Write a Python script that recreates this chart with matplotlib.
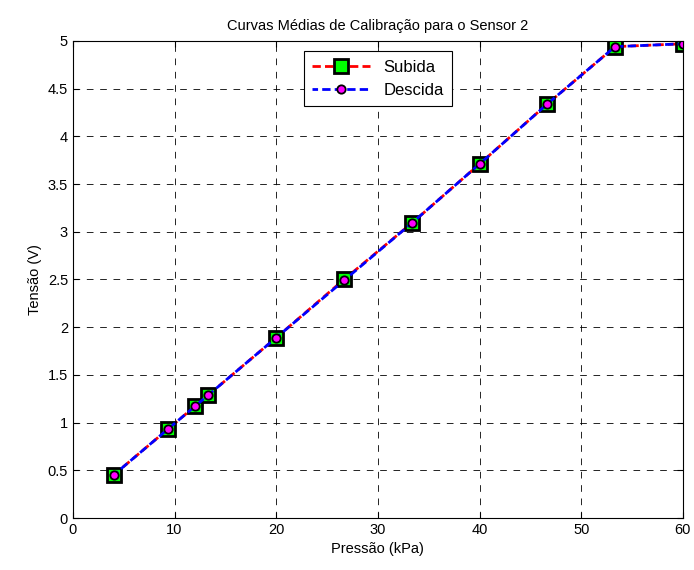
import matplotlib
matplotlib.use("Agg")
import matplotlib.pyplot as plt

# pressao (kPa) e tensao media (V)
pressao = [4.0, 9.33, 12.0, 13.33, 20.0, 26.67, 33.33, 40.0, 46.67, 53.33, 60.0]
subida = [0.45, 0.93, 1.17, 1.29, 1.89, 2.50, 3.09, 3.71, 4.34, 4.94, 4.97]
descida = [0.45, 0.93, 1.17, 1.29, 1.89, 2.49, 3.09, 3.71, 4.34, 4.94, 4.97]

plt.rcParams['font.family'] = ['Liberation Sans', 'DejaVu Sans']
plt.rcParams['font.size'] = 10.5

fig = plt.figure(figsize=(6.94, 5.70), dpi=100)
ax = fig.add_axes([0.105, 0.0912, 0.879, 0.837])

ax.plot(pressao, subida, color='red', linestyle=(0, (3, 1.5)), linewidth=2,
        marker='s', markersize=10, markerfacecolor='#00ff00',
        markeredgecolor='black', markeredgewidth=2, label='Subida')
ax.plot(pressao, descida, color='blue', linestyle=(1, (3, 1.5)), linewidth=2,
        marker='o', markersize=6, markerfacecolor='magenta',
        markeredgecolor='black', markeredgewidth=1.3, label='Descida')

ax.set_xlim(0, 60)
ax.set_ylim(0, 5)
ax.set_xticks(range(0, 61, 10))
ax.set_yticks([0, 0.5, 1, 1.5, 2, 2.5, 3, 3.5, 4, 4.5, 5])
ax.set_yticklabels(['0', '0.5', '1', '1.5', '2', '2.5', '3', '3.5', '4', '4.5', '5'])
ax.tick_params(direction='in', length=4, top=True, right=True)
ax.grid(True, color='black', linestyle=(0, (8, 8)), linewidth=0.6)
ax.set_axisbelow(True)

ax.set_title('Curvas Médias de Calibração para o Sensor 2', fontsize=10.5, pad=8)
ax.set_xlabel('Pressão (kPa)')
ax.set_ylabel('Tensão (V)')

leg = ax.legend(loc='upper center', bbox_to_anchor=(0.5, 0.996), fancybox=False,
                edgecolor='black', framealpha=1, fontsize=12, handlelength=3.5,
                borderpad=0.5, labelspacing=0.5)
leg.get_frame().set_linewidth(0.8)

fig.savefig('out.png', dpi=100)
